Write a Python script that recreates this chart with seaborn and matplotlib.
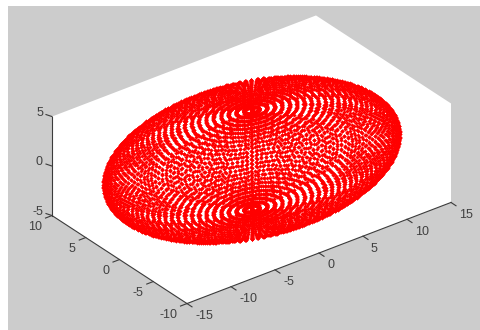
import numpy as np
import matplotlib
matplotlib.use("Agg")
import matplotlib.pyplot as plt
from matplotlib.patches import Polygon, Rectangle
import seaborn as sns

# axis ranges and ticks
x_ticks = [-15, -10, -5, 0, 5, 10, 15]
y_ticks = [-10, -5, 0, 5, 10]
z_ticks = [-5, 0, 5]

semi_x = 15
semi_y = 10
semi_z = 5

# ring angles in degrees, spacing
# NOTE: the thousands of markers cant be read one by one, so their positions
# are computed from these rings with the ellipsoid equation
lat_deg = [-90, -87, -84, -81, -78, -75, -72, -69, -66, -63, -60, -57, -54, -51, -48, -45, -42, -39, -36, -33,
           -30, -27, -24, -21, -18, -15, -12, -9, -6, -3, 0, 3, 6, 9, 12, 15, 18, 21, 24, 27,
           30, 33, 36, 39, 42, 45, 48, 51, 54, 57, 60, 63, 66, 69, 72, 75, 78, 81, 84, 87, 90]
lon_deg = [0, 3, 6, 9, 12, 15, 18, 21, 24, 27, 30, 33, 36, 39, 42, 45, 48, 51, 54, 57,
           60, 63, 66, 69, 72, 75, 78, 81, 84, 87, 90, 93, 96, 99, 102, 105, 108, 111, 114, 117,
           120, 123, 126, 129, 132, 135, 138, 141, 144, 147, 150, 153, 156, 159, 162, 165, 168, 171, 174, 177,
           180, 183, 186, 189, 192, 195, 198, 201, 204, 207, 210, 213, 216, 219, 222, 225, 228, 231, 234, 237,
           240, 243, 246, 249, 252, 255, 258, 261, 264, 267, 270, 273, 276, 279, 282, 285, 288, 291, 294, 297,
           300, 303, 306, 309, 312, 315, 318, 321, 324, 327, 330, 333, 336, 339, 342, 345, 348, 351, 354, 357]


def proj(x, y, z):
    # orthographic view, result in image pixels
    px = 251.5 + 8.8 * np.asarray(x) - 6.75 * np.asarray(y)
    py = 159.5 - 3.37 * np.asarray(x) - 4.4 * np.asarray(y) - 9.9 * np.asarray(z)
    return px, py


lat, lon = np.meshgrid(np.radians(lat_deg), np.radians(lon_deg))
ell_x = semi_x * np.cos(lat) * np.cos(lon)
ell_y = semi_y * np.cos(lat) * np.sin(lon)
ell_z = semi_z * np.sin(lat)
px, py = proj(ell_x.ravel(), ell_y.ravel(), ell_z.ravel())

fig = plt.figure(figsize=(4.8, 3.3), dpi=100, facecolor="white")
ax = fig.add_axes([0, 0, 1, 1])
ax.set_xlim(0, 480)
ax.set_ylim(330, 0)
ax.axis("off")

ax.add_patch(Rectangle((8, 6), 472, 324, color="#cccccc", lw=0))
corners = [(-15, 10, 5), (15, 10, 5), (15, -10, 5), (15, -10, -5), (-15, -10, -5), (-15, 10, -5)]
ax.add_patch(Polygon([tuple(float(v) for v in proj(*c)) for c in corners], color="white", lw=0))

sns.scatterplot(x=px, y=py, marker="D", color="#ff0000", s=4.8, linewidth=0, ax=ax, zorder=3, legend=False)

line_col = "#3c3c3c"
# box edges with axes
for a, b in [((-15, -10, -5), (15, -10, -5)), ((-15, -10, -5), (-15, 10, -5)), ((-15, 10, -5), (-15, 10, 5))]:
    p0 = proj(*a)
    p1 = proj(*b)
    ax.plot([p0[0], p1[0]], [p0[1], p1[1]], color=line_col, lw=0.8)

font = ["Liberation Sans", "DejaVu Sans"]
txt_col = "#404040"
for t in x_ticks:
    p = proj(t, -10, -5)
    ax.plot([p[0], p[0] + 5], [p[1], p[1] + 3.3], color=line_col, lw=0.8)
    ax.text(p[0] + 8, p[1] + 12.5, str(t), ha="left", va="center", fontsize=9, color=txt_col, family=font)
for t in y_ticks:
    p = proj(-15, t, -5)
    ax.plot([p[0], p[0] - 6.5], [p[1], p[1] + 2.5], color=line_col, lw=0.8)
    ax.text(p[0] - 10, p[1] + 11, str(t), ha="right", va="center", fontsize=9, color=txt_col, family=font)
for t in z_ticks:
    p = proj(-15, 10, t)
    ax.plot([p[0], p[0] - 6], [p[1], p[1] - 2], color=line_col, lw=0.8)
    ax.text(p[0] - 9, p[1] - 4, str(t), ha="right", va="center", fontsize=9, color=txt_col, family=font)

fig.savefig("out.png", dpi=100)
plt.close()
